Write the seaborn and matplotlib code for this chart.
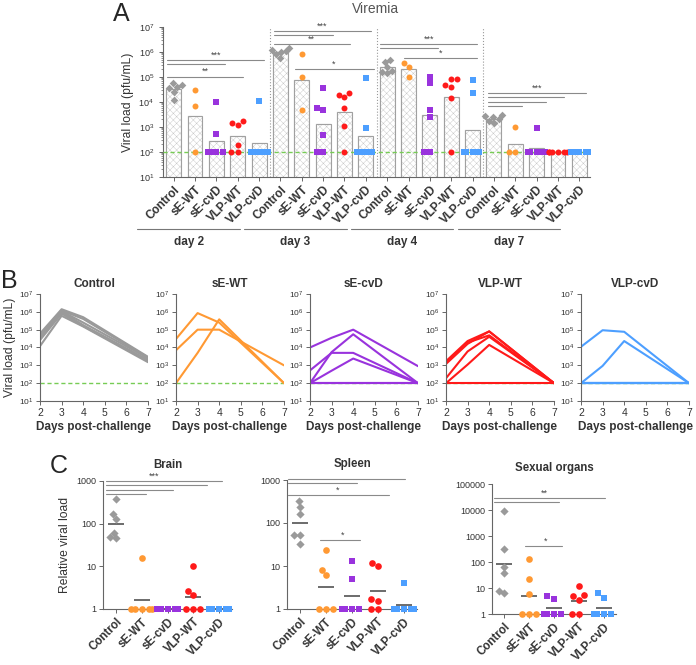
import matplotlib
matplotlib.use("Agg")
import matplotlib.pyplot as plt
from matplotlib.ticker import NullLocator
import numpy as np
import pandas as pd
import seaborn as sns

groups = ["Control", "sE-WT", "sE-cvD", "VLP-WT", "VLP-cvD"]
days = [2, 3, 4, 7]
colors = ["#9a9a9a", "#ff9933", "#9933dd", "#ff1a1a", "#4d9fff"]
markers = ["D", "o", "s", "o", "s"]
lod = 100

# viremia per animal (pfu/mL) at days 2, 3, 4, 7
control_vir = [[6e4, 1.4e6, 5e5, 3e3], [5e4, 1.2e6, 4e5, 2.7e3], [4e4, 1.1e6, 2.5e5, 2.5e3],
               [3.5e4, 1e6, 1.8e5, 2e3], [2.6e4, 8e5, 1.6e5, 1.8e3], [1.2e4, 6e5, 1.5e5, 1.5e3]]
sewt_vir = [[3e4, 8.5e5, 2.5e5, 100], [7e3, 1e5, 1e5, 1e3], [100, 5e3, 3.8e5, 100]]
secvd_vir = [[1e4, 3.5e4, 1e5, 9e2], [5.2e2, 5e3, 5e3, 100], [100, 5.5e3, 5.5e4, 100],
             [100, 5e2, 2.4e3, 100], [100, 100, 100, 100], [100, 100, 100, 100]]
vlpwt_vir = [[1.7e3, 2.3e4, 8e4, 100], [1.4e3, 1.9e4, 4.8e4, 100], [1.2e3, 1.6e4, 8e4, 100],
             [190, 6e3, 4e4, 100], [100, 1.1e3, 1.4e4, 100], [100, 100, 100, 100]]
vlpcvd_vir = [[1.1e4, 9.3e4, 7.6e4, 100], [100, 9.3e2, 2.3e4, 100], [100, 100, 100, 100],
              [100, 100, 100, 100], [100, 100, 100, 100], [100, 100, 100, 100]]
viremia = [control_vir, sewt_vir, secvd_vir, vlpwt_vir, vlpcvd_vir]

# relative viral load in organs, per group
brain = [[370, 165, 126, 61, 45, 49], [16, 1, 1, 1, 1, 1], [1, 1, 1, 1, 1, 1],
         [10, 2.6, 2.1, 1, 1, 1], [1, 1, 1, 1, 1, 1]]
spleen = [[325, 240, 165, 52, 52, 33], [23, 8.2, 6.2, 1, 1, 1], [12.8, 5, 1, 1, 1, 1],
          [12, 10, 1.7, 1.5, 1, 1], [4, 1, 1, 1, 1, 1]]
sexual = [[9300, 310, 65, 38, 6.5, 7.7], [130, 22, 6.1, 1, 1, 1], [4.8, 3.9, 1, 1, 1, 1],
          [11.7, 5.5, 5, 3.6, 1, 1], [6.2, 4.3, 1, 1, 1, 1]]

sns.set_style("ticks")
plt.rcParams["font.family"] = ["Liberation Sans", "DejaVu Sans"]
plt.rcParams["hatch.linewidth"] = 0.3
plt.rcParams["axes.edgecolor"] = "#666666"
plt.rcParams["axes.linewidth"] = 0.8
plt.rcParams["xtick.color"] = "#666666"
plt.rcParams["ytick.color"] = "#666666"
plt.rcParams["xtick.labelcolor"] = "#333333"
plt.rcParams["ytick.labelcolor"] = "#333333"

W, H = 696, 665
fig = plt.figure(figsize=(W / 100, H / 100), dpi=100)


def px_axes(l, t, r, b):
    return fig.add_axes([l / W, 1 - b / H, (r - l) / W, (b - t) / H])


def gmean(v):
    return 10 ** np.log10(v).mean()


# long table for viremia
rows = []
for g, animals in zip(groups, viremia):
    for a, traj in enumerate(animals):
        for d, v in zip(days, traj):
            rows.append({"group": g, "day": d, "animal": a, "value": v, "cat": f"{g} d{d}"})
vir = pd.DataFrame(rows)
cats = [f"{g} d{d}" for d in days for g in groups]

# ---- panel A ----
axA = px_axes(163, 27, 590, 177)
axA.set_yscale("log")
bars = vir.groupby("cat")["value"].apply(gmean).reset_index()
# light hatched fill, then a plain gray outline on top
sns.barplot(data=bars, x="cat", y="value", order=cats, color="white", saturation=1,
            width=0.7, edgecolor="#c4c4c4", linewidth=0.1, hatch="xxxxx",
            errorbar=None, ax=axA)
sns.barplot(data=bars, x="cat", y="value", order=cats, color="#a0a0a0", fill=False,
            width=0.7, linewidth=0.8, errorbar=None, ax=axA)
axA.axhline(lod, color="#77cc55", ls=(0, (3, 2)), lw=1, zorder=2.6)
for g, c, m in zip(groups, colors, markers):
    sns.swarmplot(data=vir[vir.group == g], x="cat", y="value", order=cats, color=c,
                  marker=m, size=4.3 if m != "D" else 3.9, linewidth=0, zorder=3, ax=axA)
for x in [4.5, 9.5, 14.5]:
    axA.axvline(x, color="#999999", ls=":", lw=0.8)
axA.set_xlim(-0.5, 19.5)
axA.set_ylim(10, 1e7)
axA.set_yticks([10 ** k for k in range(1, 8)])
axA.tick_params(axis="y", labelsize=6.5, length=3, width=0.7)
axA.tick_params(axis="y", which="minor", length=1.5, width=0.5)
axA.set_xticks(range(20))
axA.set_xticklabels(groups * 4, rotation=45, ha="right", rotation_mode="anchor",
                    fontsize=8.5, fontweight="bold")
axA.tick_params(axis="x", length=3, width=0.7, pad=2)
axA.set_xlabel("")
axA.set_ylabel("Viral load (pfu/mL)", fontsize=8.7, color="#333333", labelpad=3)
sns.despine(ax=axA)

sig_A = [(-0.29, 4.22, 10 ** 5.68, "***", 1.97), (-0.29, 2.4, 10 ** 5.51, "", 0),
         (-0.29, 3.24, 10 ** 5.01, "**", 1.48), (4.68, 9.26, 10 ** 6.84, "***", 6.97),
         (4.68, 7.44, 10 ** 6.68, "", 0), (4.68, 8.25, 10 ** 6.31, "**", 6.47),
         (5.69, 9.38, 10 ** 5.32, "*", 7.5), (9.66, 14.22, 10 ** 6.32, "***", 11.94),
         (9.66, 12.36, 10 ** 6.15, "", 0), (10.81, 14.22, 10 ** 5.75, "*", 12.5),
         (14.74, 19.33, 10 ** 4.35, "***", 17.0), (14.74, 18.28, 10 ** 4.19, "", 0),
         (14.74, 17.46, 10 ** 4.0, "", 0), (14.74, 16.3, 10 ** 3.84, "", 0)]
for x0, x1, y, lab, xt in sig_A:
    axA.plot([x0, x1], [y, y], color="#8a8a8a", lw=0.8, clip_on=False)
    if lab:
        axA.annotate(lab, (xt, y), xytext=(0, 0.5), textcoords="offset points",
                     ha="center", va="bottom", fontsize=6.5, color="#444444")

tr = axA.get_xaxis_transform()
for k, d in enumerate(days):
    first = 5 * k
    axA.plot([first - 1.7, first + 3.1], [-0.347, -0.347], transform=tr, clip_on=False,
             color="#777777", lw=0.8)
    axA.text(first + 0.7, -0.43, f"day {d}", transform=tr, ha="center", va="center",
             fontsize=8.5, fontweight="bold", color="#333333")

fig.text(376 / W, 1 - 9 / H, "Viremia", ha="center", va="center", fontsize=10, color="#555555")
fig.text(121 / W, 1 - 14 / H, "A", ha="center", va="center", fontsize=18)

# ---- panel B ----
lefts = [40, 176, 310, 446, 581]
for i, (g, c) in enumerate(zip(groups, colors)):
    ax = px_axes(lefts[i], 294, lefts[i] + 108, 401)
    ax.set_yscale("log")
    ax.axhline(lod, color="#77cc55", ls=(0, (3, 2)), lw=1)
    sns.lineplot(data=vir[vir.group == g], x="day", y="value", units="animal",
                 estimator=None, color=c, lw=1.5, ax=ax)
    ax.set_xlim(2, 7)
    ax.set_ylim(10, 1e7)
    ax.set_xticks(range(2, 8))
    ax.set_yticks([10 ** k for k in range(1, 8)])
    ax.yaxis.set_minor_locator(NullLocator())
    ax.tick_params(axis="y", labelsize=6, length=3, width=0.7, pad=2)
    ax.tick_params(axis="x", labelsize=7.5, length=3, width=0.7, pad=2)
    ax.set_title(g, fontsize=8.5, fontweight="bold", color="#333333", pad=5)
    ax.set_xlabel("Days post-challenge", fontsize=8.5, fontweight="bold", color="#333333",
                  labelpad=2)
    ax.set_ylabel("Viral load (pfu/mL)" if i == 0 else "", fontsize=8.7, color="#333333",
                  labelpad=2)
    sns.despine(ax=ax)
fig.text(9 / W, 1 - 281 / H, "B", ha="center", va="center", fontsize=18)

# ---- panel C ----
organs = [("Brain", brain, (103, 481, 232, 609), 1000),
          ("Spleen", spleen, (287, 480, 417, 609), 1000),
          ("Sexual organs", sexual, (492, 484, 616, 614), 1e5)]
sig_C = {
    "Brain": [(-0.38, 4.12, 1000, "***", 1.48), (-0.38, 3.52, 10 ** 2.9, "", 0),
              (-0.38, 2.22, 10 ** 2.8, "", 0), (-0.38, 1.15, 10 ** 2.69, "", 0)],
    "Spleen": [(-0.45, 4.04, 10 ** 3.02, "***", 1.37), (-0.45, 2.2, 10 ** 2.92, "", 0),
               (-0.45, 3.42, 10 ** 2.65, "*", 1.46), (0.77, 2.3, 10 ** 1.6, "*", 1.64)],
    "Sexual organs": [(-0.41, 4.07, 10 ** 4.46, "**", 1.62), (-0.41, 2.2, 10 ** 4.29, "", 0),
                      (0.84, 2.33, 10 ** 2.61, "*", 1.65)],
}
for j, (name, vals, (l, t, r, b), top) in enumerate(organs):
    ax = px_axes(l, t, r, b)
    ax.set_yscale("log")
    org = pd.DataFrame([{"group": g, "value": v} for g, vs in zip(groups, vals) for v in vs])
    for g, c, m in zip(groups, colors, markers):
        sns.swarmplot(data=org[org.group == g], x="group", y="value", order=groups, color=c,
                      marker=m, size=4.8 if m != "D" else 4.2, linewidth=0, zorder=3,
                      clip_on=False, ax=ax)
    means = org.groupby("group")["value"].apply(gmean).reset_index()
    sns.pointplot(data=means, x="group", y="value", order=groups, color="#444444",
                  markers="_", linestyles="none", markersize=12, markeredgewidth=1.1,
                  errorbar=None, ax=ax)
    for x0, x1, y, lab, xt in sig_C[name]:
        ax.plot([x0, x1], [y, y], color="#8a8a8a", lw=0.8, clip_on=False)
        if lab:
            ax.annotate(lab, (xt, y), xytext=(0, 0.5), textcoords="offset points",
                        ha="center", va="bottom", fontsize=6.5, color="#444444")
    ax.set_xlim(-0.5, 4.5)
    ax.set_ylim(1, top)
    ticks = [10 ** k for k in range(0, int(np.log10(top)) + 1)]
    ax.set_yticks(ticks)
    ax.set_yticklabels([f"{int(v)}" for v in ticks])
    ax.yaxis.set_minor_locator(NullLocator())
    ax.tick_params(axis="y", labelsize=6.5, length=3, width=0.7, pad=2)
    ax.set_xticks(range(5))
    ax.set_xticklabels(groups, rotation=45, ha="right", rotation_mode="anchor",
                       fontsize=8.3, fontweight="bold")
    ax.tick_params(axis="x", length=3, width=0.7, pad=2)
    ax.set_xlabel("")
    ax.set_ylabel("Relative viral load" if j == 0 else "", fontsize=8.7, color="#333333")
    ax.set_title(name, fontsize=8.3, fontweight="bold", color="#333333", pad=9)
    sns.despine(ax=ax)
fig.text(59 / W, 1 - 466 / H, "C", ha="center", va="center", fontsize=18)

fig.savefig("out.png", dpi=100)
